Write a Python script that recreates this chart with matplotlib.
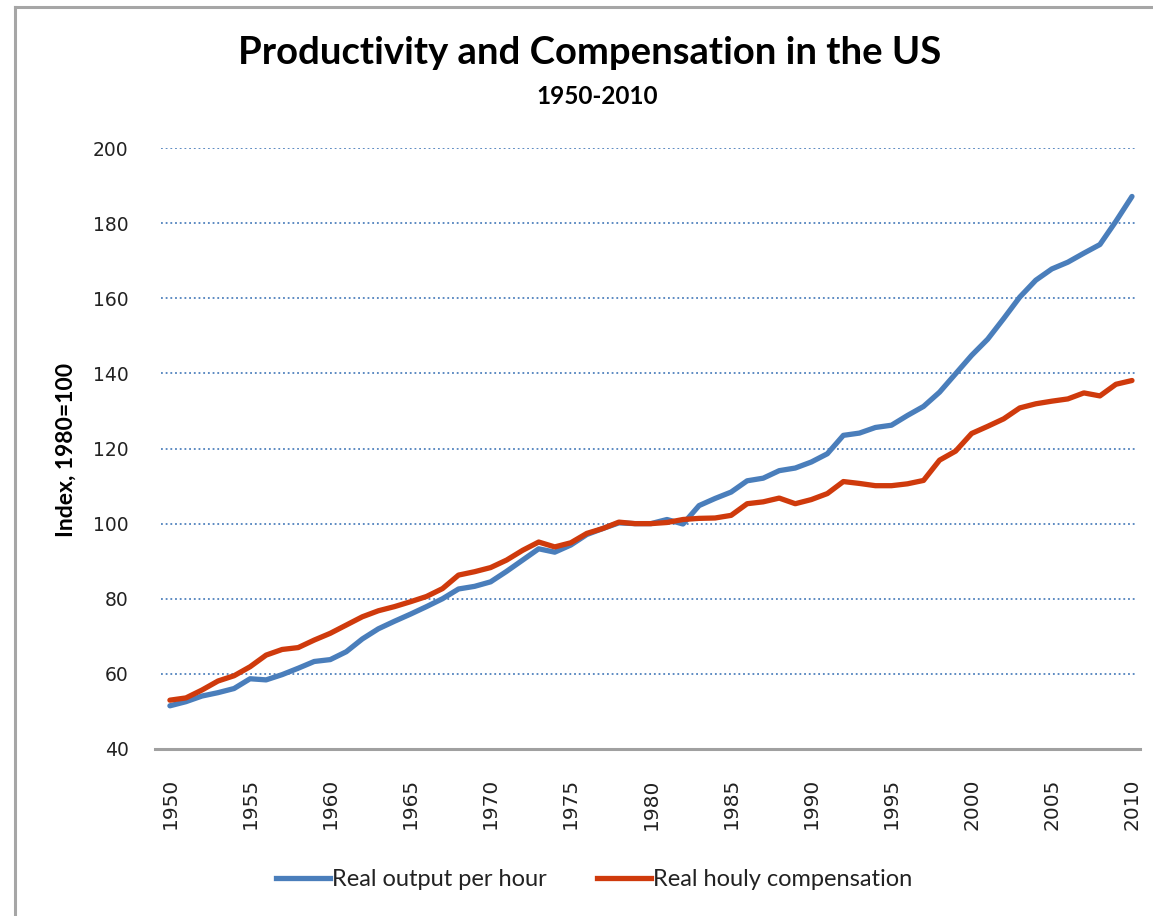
import matplotlib
matplotlib.use("Agg")
import matplotlib.pyplot as plt
from matplotlib.lines import Line2D

years = list(range(1950, 2011))
output_per_hour = [51.5, 52.6, 54.1, 55.0, 56.1, 58.7, 58.4, 59.8, 61.5, 63.3, 63.8, 65.9,
                   69.3, 72.0, 74.0, 75.9, 77.9, 80.0, 82.6, 83.3, 84.5, 87.3, 90.3, 93.3,
                   92.4, 94.3, 97.1, 98.7, 100.2, 100.0, 100.0, 101.1, 99.9, 104.8, 106.7,
                   108.4, 111.4, 112.1, 114.1, 114.8, 116.4, 118.6, 123.5, 124.1, 125.6,
                   126.2, 128.8, 131.2, 135.0, 139.9, 144.8, 149.1, 154.6, 160.3, 164.8,
                   167.8, 169.6, 172.0, 174.3, 180.5, 187.1]
hourly_compensation = [53.0, 53.6, 55.7, 58.1, 59.5, 61.9, 65.0, 66.5, 67.0, 69.0, 70.8, 73.0,
                       75.2, 76.8, 77.9, 79.2, 80.6, 82.7, 86.3, 87.2, 88.3, 90.3, 92.9, 95.1,
                       93.8, 94.9, 97.4, 98.7, 100.4, 100.0, 100.0, 100.3, 101.1, 101.4, 101.5,
                       102.2, 105.3, 105.8, 106.8, 105.3, 106.4, 108.0, 111.2, 110.7, 110.1,
                       110.1, 110.6, 111.5, 116.9, 119.3, 124.0, 125.9, 127.9, 130.8, 131.9,
                       132.6, 133.2, 134.8, 134.0, 137.1, 138.1]
series_labels = ["Real output per hour", "Real houly compensation"]
xtick_years = list(range(1950, 2011, 5))
yticks = list(range(40, 201, 20))

W, H = 1153, 916
fig = plt.figure(figsize=(W / 100, H / 100), dpi=100)
fig.patch.set_facecolor("white")

def fx(px):
    return px / W

def fy(py):
    return 1 - py / H

# outer chart-area border (only left & top visible in the crop)
fig.add_artist(Line2D([fx(15), fx(15)], [fy(7), 0], color="#A6A6A6", lw=2.2, transform=fig.transFigure))
fig.add_artist(Line2D([fx(15), 1], [fy(7), fy(7)], color="#A6A6A6", lw=2.2, transform=fig.transFigure))

left, right, top, bottom = 155, 1140, 148, 749
ax = fig.add_axes([fx(left), fy(bottom), fx(right) - fx(left), fy(top) - fy(bottom)])

blue = "#4A7EBB"
red = "#CF3A0C"
ax.plot(years, output_per_hour, color=blue, lw=3.8, solid_joinstyle="round", solid_capstyle="round", zorder=3)
ax.plot(years, hourly_compensation, color=red, lw=3.8, solid_joinstyle="round", solid_capstyle="round", zorder=3)

ax.set_xlim(1949.07, 2010.5)
ax.set_ylim(40, 200)
ax.set_yticks(yticks)
ax.set_xticks(xtick_years)
ax.set_xticklabels([str(y) for y in xtick_years], rotation=90)

for s in ["left", "right", "top"]:
    ax.spines[s].set_visible(False)
ax.spines["bottom"].set_color("#A0A0A0")
ax.spines["bottom"].set_linewidth(2.2)

for v in yticks[1:]:
    ax.axhline(v, xmin=0.006, xmax=0.997, color="#4F81BD", lw=1.3, ls=(0, (1, 1.6)), zorder=1)

ax.tick_params(axis="both", length=0, labelsize=13.5, colors="#222222")
ax.tick_params(axis="y", pad=19)
ax.tick_params(axis="x", labelsize=14.5, pad=21)

fig.text(fx(590), fy(53), "Productivity and Compensation in the US", ha="center", va="center",
         fontsize=27.5, fontweight="bold", family="Lato", color="black")
fig.text(fx(597), fy(97), "1950-2010", ha="center", va="center",
         fontsize=17.5, fontweight="bold", family="Lato", color="black")
fig.text(fx(66), fy(450), "Index, 1980=100", ha="center", va="center", rotation=90,
         fontsize=16.5, fontweight="bold", family="Lato", color="black")

handles = [Line2D([], [], color=blue, lw=3.8), Line2D([], [], color=red, lw=3.8)]
fig.legend(handles, series_labels, loc="center", bbox_to_anchor=(fx(594), fy(880)), ncol=2,
           frameon=False, prop={"family": "Lato", "size": 17}, handlelength=2.3,
           handletextpad=0.1, columnspacing=2.1, labelcolor="#222222")

fig.savefig("out.png", dpi=100, facecolor="white")
